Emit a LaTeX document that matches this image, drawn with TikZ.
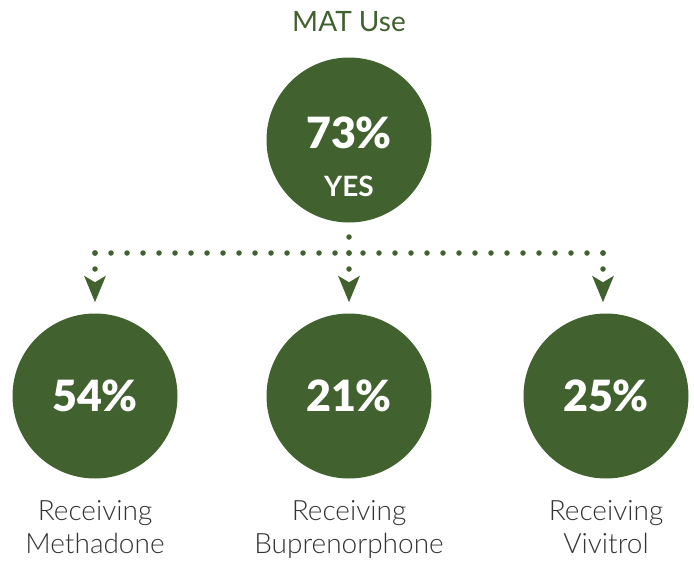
\documentclass[tikz,border=0pt]{standalone}
\usepackage{fontspec}
\setmainfont{Lato}
\newfontfamily\latolight{Lato Light}
\newfontfamily\latoblack{Lato Black}
\usetikzlibrary{arrows.meta,positioning}
\definecolor{matGreen}{HTML}{41612F}
\definecolor{matInk}{HTML}{333333}

\begin{document}
\begin{tikzpicture}[x=1pt,y=-1pt,
      disc/.style={circle,fill=matGreen,minimum size=165pt,inner sep=0pt,text=white,align=center},
      pct/.style={font=\latoblack\fontsize{43}{45}\selectfont},
      caption/.style={font=\latolight\fontsize{28}{33}\selectfont,text=matInk,align=center,inner sep=0pt},
      dots/.style={matGreen,line width=5.5pt,line cap=round,dash pattern=on 0pt off 16pt}]
    \useasboundingbox (0,0) rectangle (694,562);
    % top circle and its heading
    \node[disc] (top) at (349,140) {};
    \node[font=\fontsize{28}{32}\selectfont,text=matGreen] (title) at (349,22) {MAT Use};
    \node[pct,text=white] (topval) at (349,133) {73\%};
    \node[font=\bfseries\fontsize{28}{30}\selectfont,text=white] (topyes) at (349,186) {YES};
    % the three groups
    \node[disc,pct] (meth) at (95,396) {54\%};
    \node[disc,pct] (bupr) at (349,396) {21\%};
    \node[disc,pct] (vivi) at (606,396) {25\%};
    \node[caption,below=22pt of meth] (methlbl) {Receiving\\Methadone};
    \node[caption,below=22pt of bupr] (buprlbl) {Receiving\\Buprenorphone};
    \node[caption,below=22pt of vivi] (vivilbl) {Receiving\\Vivitrol};
    % dotted branching
    \coordinate (hub) at (349,253);
    \coordinate (hubL) at (95,253);
    \coordinate (hubR) at (603,253);
    \draw[dots] (hub) -- (top.south);
    \draw[dots] (hubL) -- (hub);
    \draw[dots] (hubR) -- (hub);
    \foreach \a/\b in {hubL/meth,hub/bupr,hubR/vivi}
      \draw[dots,-{Stealth[length=26pt,width=21pt,inset=6pt]},shorten >=11pt] (\a) -- (\a |- \b.north);
\end{tikzpicture}
\end{document}
